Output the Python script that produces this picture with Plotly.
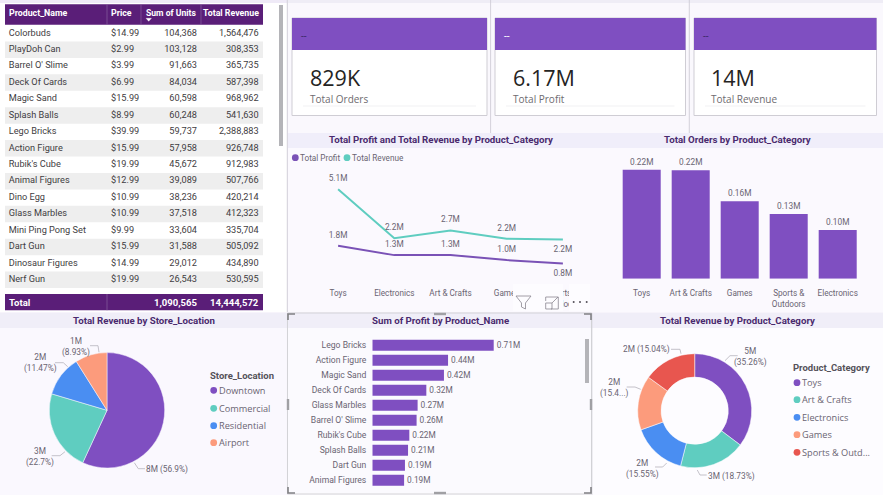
import plotly.graph_objects as go

W, H = 883, 495

# ---- data ----
products = ["Colorbuds", "PlayDoh Can", "Barrel O' Slime", "Deck Of Cards", "Magic Sand", "Splash Balls",
            "Lego Bricks", "Action Figure", "Rubik's Cube", "Animal Figures", "Dino Egg", "Glass Marbles",
            "Mini Ping Pong Set", "Dart Gun", "Dinosaur Figures", "Nerf Gun"]
prices = ["$14.99", "$2.99", "$3.99", "$6.99", "$15.99", "$8.99", "$39.99", "$15.99", "$19.99", "$12.99",
          "$10.99", "$10.99", "$9.99", "$15.99", "$14.99", "$19.99"]
units = ["104,368", "103,128", "91,663", "84,034", "60,598", "60,248", "59,737", "57,958", "45,672", "39,089",
         "38,236", "37,518", "33,604", "31,588", "29,012", "26,543"]
revenues = ["1,564,476", "308,353", "365,735", "587,398", "968,962", "541,630", "2,388,883", "926,748",
            "912,983", "507,766", "420,214", "412,323", "335,704", "505,092", "434,890", "530,595"]
table_header = ["Product_Name", "Price", "Sum of Units", "Total Revenue"]
table_total = ["Total", "", "1,090,565", "14,444,572"]

kpi_values = ["829K", "6.17M", "14M"]
kpi_labels = ["Total Orders", "Total Profit", "Total Revenue"]

line_cats = ["Toys", "Electronics", "Art & Crafts", "Games", "Sports &<br>Outdoors"]
line_profit = [1.82, 1.27, 1.27, 0.98, 0.78]
line_revenue = [5.09, 2.25, 2.70, 2.22, 2.17]

order_cats = ["Toys", "Art & Crafts", "Games", "Sports &<br>Outdoors", "Electronics"]
order_vals = [0.2225, 0.2215, 0.158, 0.132, 0.0995]

profit_names = ["Lego Bricks", "Action Figure", "Magic Sand", "Deck Of Cards", "Glass Marbles", "Barrel O' Slime",
                "Rubik's Cube", "Splash Balls", "Dart Gun", "Animal Figures"]
profit_vals = [0.71, 0.443, 0.419, 0.316, 0.265, 0.259, 0.2165, 0.209, 0.191, 0.186]

store_names = ["Downtown", "Commercial", "Residential", "Airport"]
store_vals = [56.9, 22.7, 11.47, 8.93]
store_labels = ["8M (56.9%)", "3M<br>(22.7%)", "2M<br>(11.47%)", "1M<br>(8.93%)"]

cat_names = ["Toys", "Art & Crafts", "Electronics", "Games", "Sports & Outd..."]
cat_vals = [35.26, 18.73, 15.55, 15.4, 15.04]
cat_labels = ["5M<br>(35.26%)", "3M (18.73%)", "2M<br>(15.55%)", "2M<br>(15.4...)", "2M (15.04%)"]

# ---- style ----
PURPLE, TEAL, BLUE, SALMON, RED = "#7F4FC1", "#5FCDC0", "#4A8EF2", "#FC9B7C", "#E8564F"
DARK = "#5A1E78"
GREY = "#6A6472"
TITLE = "#4A2A6E"
FONT = "Roboto"
TFONT = "Roboto"

def px(x): return x / W
def py(y): return 1 - y / H
def dx(a, b): return [a / W, b / W]
def dy(t, b): return [1 - b / H, 1 - t / H]

shapes, annos = [], []

def rect(x0, y0, x1, y1, fill, line=None, lw=1, layer="below"):
    shapes.append(dict(type="rect", xref="paper", yref="paper", x0=px(x0), x1=px(x1), y0=py(y0), y1=py(y1),
                       fillcolor=fill, line=dict(color=line or fill, width=lw if line else 0), layer=layer))

def poly(pts, color, lw=0.8, layer="above", fill=None, close=False):
    d = "M" + " L".join(f"{px(a):.5f},{py(b):.5f}" for a, b in pts) + (" Z" if close else "")
    shapes.append(dict(type="path", xref="paper", yref="paper", path=d, line=dict(color=color, width=lw),
                       fillcolor=fill or "rgba(0,0,0,0)", layer=layer))

def dot(cx, cy, r, color):
    shapes.append(dict(type="circle", xref="paper", yref="paper", x0=px(cx - r), x1=px(cx + r), y0=py(cy + r), y1=py(cy - r),
                       fillcolor=color, line=dict(width=0), layer="above"))

def text(x, y, s, size=9, color=GREY, anchor="left", family=FONT, bold=False):
    annos.append(dict(xref="paper", yref="paper", x=px(x), y=py(y), text=f"<b>{s}</b>" if bold else s, showarrow=False,
                      xanchor=anchor, yanchor="middle", align=anchor,
                      font=dict(size=size, color=color, family=family), borderpad=0, borderwidth=0))

# ---- panels ----
rect(0, 0, 287, 312, "#FFFFFF")
rect(288, 0, W, 133, "#FAF8FD")
rect(288, 148, W, 312, "#FBF9FE")
rect(0, 328, 287, H, "#FAF8FE")
rect(288, 328, 592, H, "#FBFAFE")
rect(592, 328, W, H, "#FDFCFF")
rect(0, 0, 287, 3, "#EFEAF7")
rect(288, 0, W, 3, "#EFEDF6")
rect(288, 133, W, 148, "#F0EEFA")
rect(0, 313, 287, 328, "#F0EEF8")
rect(288, 313, 592, 328, "#F0EEF8")
rect(592, 313, W, 328, "#F0EEF8")
for x in (287.3, 490.6, 689.3):
    poly([(x, 0), (x, 133)], "#C9C6D0", 0.8, "below")
poly([(287.3, 133), (287.3, 312)], "#C9C6D0", 0.8, "below")
poly([(592, 313), (592, 495)], "#D8D6DE", 0.8, "below")

# ---- KPI cards ----
cards = [(292, 487, "#3E2A6A", 310), (495, 685.5, "#FFFFFF", 513), (694, 876.5, "#3E2A6A", 711)]
for (a, b, dash, tx), v, l in zip(cards, kpi_values, kpi_labels):
    rect(a, 18, b, 115.5, "#FFFFFF", "#CFCDD4", 1)
    rect(a, 18, b, 50, PURPLE)
    text(a + 9, 36, "--", 10, dash)
    text(tx, 77, v, 21.5, "#252423", family="Open Sans")
    text(tx, 99, l, 10, "#6E6B70", family="Open Sans")
    poly([(a + 11, 106), (b - 11, 106)], "#EDEDF0", 0.8, "below")

# ---- table ----
rect(5, 4.3, 263, 24.7, DARK)
rect(5, 294, 263, 310.3, DARK)
poly([(107, 4.3), (107, 24.7)], "#8E6AA5", 0.6, "below")
poly([(141, 4.3), (141, 24.7)], "#8E6AA5", 0.6, "below")
poly([(201, 4.3), (201, 24.7)], "#8E6AA5", 0.6, "below")
poly([(107, 294), (107, 310.3)], "#8E6AA5", 0.6, "below")
col_x = [8.7, 111, 197, 258.7]
col_pos = ["middle right", "middle right", "middle left", "middle left"]
for i in range(len(products)):
    if i % 2:
        shapes.append(dict(type="rect", xref="x4", yref="y4", x0=5, x1=263, y0=i - .5, y1=i + .5,
                           fillcolor="#EEEEEE", line=dict(width=0), layer="below"))
rows = list(range(len(products)))
text(8.7, 12.5, table_header[0], 8.8, "#FFFFFF", bold=True)
text(111, 12.5, table_header[1], 8.8, "#FFFFFF", bold=True)
text(195.5, 12.5, table_header[2], 8.6, "#FFFFFF", "right", bold=True)
text(259, 12.5, table_header[3], 8.8, "#FFFFFF", "right", bold=True)
poly([(146, 18.3), (151.5, 18.3), (148.7, 21.3)], "#FFFFFF", 0.3, fill="#FFFFFF", close=True)
text(8.7, 302.5, table_total[0], 9.5, "#FFFFFF", bold=True)
text(197, 302.5, table_total[2], 9.5, "#FFFFFF", "right", bold=True)
text(259, 302.5, table_total[3], 9.5, "#FFFFFF", "right", bold=True)
rect(279, 5, 283, 146, "#B4B4B8", layer="above")

fig = go.Figure()
for x, pos, col in zip(col_x, col_pos, [products, prices, units, revenues]):
    fig.add_trace(go.Scatter(x=[x] * len(rows), y=rows, text=col, mode="text", textposition=pos, xaxis="x4", yaxis="y4",
                             textfont=dict(size=9.2, color="#3F3D42", family=FONT), cliponaxis=False, hoverinfo="skip", showlegend=False))

# ---- titles ----
TS = 9.7
text(440.7, 139, "Total Profit and Total Revenue by Product_Category", TS, TITLE, "center", TFONT, True)
text(737, 139, "Total Orders by Product_Category", TS, TITLE, "center", TFONT, True)
text(144.3, 320, "Total Revenue by Store_Location", TS, TITLE, "center", TFONT, True)
text(440, 320, "Sum of Profit by Product_Name", TS, TITLE, "center", TFONT, True)
text(737, 320, "Total Revenue by Product_Category", TS, TITLE, "center", TFONT, True)

# ---- line chart ----
hidden = dict(size=8, opacity=0)
fig.add_trace(go.Scatter(x=line_cats, y=line_profit, mode="lines+markers+text", line=dict(color="#7A52B6", width=2), marker=hidden, xaxis="x", yaxis="y",
                         text=[f"{v:.1f}M" for v in line_profit], textposition=["top center"] * 4 + ["bottom center"],
                         textfont=dict(size=8.3, color=GREY, family=FONT), cliponaxis=False, showlegend=False, name="Total Profit"))
fig.add_trace(go.Scatter(x=line_cats, y=line_revenue, mode="lines+markers+text", line=dict(color=TEAL, width=2), marker=hidden, xaxis="x", yaxis="y",
                         text=[f"{v:.1f}M" for v in line_revenue], textposition=["top center"] * 4 + ["bottom center"],
                         textfont=dict(size=8.3, color=GREY, family=FONT), cliponaxis=False, showlegend=False, name="Total Revenue"))
dot(295.3, 157.7, 3.4, "#7A52B6")
text(300.3, 158, "Total Profit", 8.2)
dot(347, 157.7, 3.4, TEAL)
text(352, 158, "Total Revenue", 8.2)

# ---- column chart ----
fig.add_trace(go.Bar(x=order_cats, y=order_vals, marker=dict(color=PURPLE, line=dict(width=0)), xaxis="x2", yaxis="y2",
                     text=[f"{v:.2f}M" for v in order_vals], textposition="outside", cliponaxis=False, width=0.776,
                     textfont=dict(size=8.3, color=GREY, family=FONT), showlegend=False))

# ---- horizontal bars ----
fig.add_trace(go.Bar(y=profit_names, x=profit_vals, orientation="h", marker=dict(color=PURPLE, line=dict(width=0)), xaxis="x3", yaxis="y3",
                     text=[f"{v:.2f}M" for v in profit_vals], textposition="outside", cliponaxis=False, width=0.73,
                     textfont=dict(size=8.3, color=GREY, family=FONT), showlegend=False))
rect(585, 339, 589, 383, "#B4B4B8", layer="above")

# ---- store pie ----
fig.add_trace(go.Pie(labels=store_names, values=store_vals, sort=False, direction="clockwise", rotation=0, textinfo="none",
                     marker=dict(colors=[PURPLE, TEAL, BLUE, SALMON], line=dict(color="#FAF8FE", width=0.5)),
                     domain=dict(x=dx(49.3, 164.7), y=dy(352.6, 468)), showlegend=False, hoverinfo="label+percent"))
LS = 8.3
text(167.3, 469.3, store_labels[0], LS, GREY, "center")
text(40, 456.5, store_labels[1], LS, GREY, "center")
text(40, 362.5, store_labels[2], LS, GREY, "center")
text(76, 346.5, store_labels[3], LS, GREY, "center")
poly([(134.3, 462.7), (138.3, 468.7), (145, 468.7)], "#B5B2BB")
poly([(51.7, 455.7), (60, 455.7), (65, 451.7)], "#B5B2BB")
poly([(55, 362.7), (63.3, 362.7), (67.7, 366.7)], "#B5B2BB")
poly([(90, 345.7), (98, 345.7), (99, 352.3)], "#B5B2BB")
text(209.7, 375.7, "Store_Location", 9.5, "#55525A", bold=True)
for yy, n, c in zip([390.3, 408.3, 425.7, 442.7], store_names, [PURPLE, TEAL, BLUE, SALMON]):
    dot(213.7, yy, 3.4, c)
    text(219, yy, n, 9.2, GREY, family="Open Sans")

# ---- category donut ----
fig.add_trace(go.Pie(labels=cat_names, values=cat_vals, sort=False, direction="clockwise", rotation=0, textinfo="none", hole=0.59,
                     marker=dict(colors=[PURPLE, TEAL, BLUE, SALMON, RED], line=dict(color="#FDFCFF", width=0.5)),
                     domain=dict(x=dx(637.7, 751.7), y=dy(353.7, 467.7)), showlegend=False, hoverinfo="label+percent"))
text(750, 356.5, cat_labels[0], LS, GREY, "center")
text(731, 476, cat_labels[1], LS, GREY, "center")
text(642, 468.5, cat_labels[2], LS, GREY, "center")
text(614.5, 388, cat_labels[3], LS, GREY, "center")
text(646, 349.3, cat_labels[4], LS, GREY, "center")
poly([(725, 360.7), (730, 355.7), (737.7, 355.7)], "#B5B2BB")
poly([(671, 349.3), (680, 349.3), (681, 353.7)], "#B5B2BB")
poly([(626.7, 387), (635, 387), (640.7, 389.3)], "#B5B2BB")
poly([(655, 467), (662.7, 467), (666.7, 463)], "#B5B2BB")
poly([(697.3, 470), (700, 475), (706.7, 475)], "#B5B2BB")
text(793.3, 367.7, "Product_Category", 9.5, "#55525A", bold=True)
for yy, n, c in zip([382.7, 399.7, 417.3, 434.7, 452.3], cat_names, [PURPLE, TEAL, BLUE, SALMON, RED]):
    dot(797, yy, 3.4, c)
    text(802, yy, n, 9.2, GREY, family="Open Sans")

# ---- visual header overlay ----
rect(513, 284, 563, 311, "#FDFCFF", layer="above")
rect(569, 284, 590, 311, "#FDFCFF", layer="above")
poly([(516, 296), (531, 296), (525.5, 303), (525.5, 309), (521.5, 307), (521.5, 303)], "#8A8790", 0.8, close=True)
poly([(545.7, 301), (545.7, 297), (558.3, 297), (558.3, 309), (551, 309)], "#8A8790", 0.8)
poly([(545.7, 303), (552, 303), (552, 309), (545.7, 309)], "#8A8790", 0.8, close=True)
poly([(552, 303), (558, 297)], "#8A8790", 0.8)
for cx in (573.7, 580, 586.7):
    dot(cx, 302, 1, "#55525A")

# ---- selection frame ----
poly([(287.5, 313), (591.5, 313), (591.5, 494), (287.5, 494)], "#CFCFD2", 0.9, close=True)
for a, b, c in [((288, 320), (288, 314), (295, 314)), ((584, 314), (591, 314), (591, 320)),
                ((288, 487), (288, 493), (295, 493)), ((584, 493), (591, 493), (591, 487))]:
    poly([a, b, c], "#808084", 1.6)
for seg in [[(288, 399), (288, 410)], [(591, 399), (591, 410)], [(434, 314), (446, 314)], [(434, 493), (446, 493)]]:
    poly(seg, "#A0A0A4", 2.4)

# ---- axes ----
noax = dict(visible=False, fixedrange=True)
tick = dict(size=8.2, color=GREY, family=FONT)
fig.update_layout(
    width=W, height=H, margin=dict(l=0, r=0, t=0, b=0), autosize=False,
    paper_bgcolor="#F7F4FB", plot_bgcolor="rgba(0,0,0,0)", shapes=shapes, annotations=annos, bargap=0.2,
    font=dict(family=FONT),
    xaxis=dict(domain=dx(310, 591), range=[-0.5, 4.5], type="category", categoryorder="array", categoryarray=line_cats,
               showgrid=False, zeroline=False, showline=False, ticks="", tickfont=tick, ticklabelstandoff=8, fixedrange=True),
    yaxis=dict(domain=dy(165, 279), range=[-0.116, 6.5], visible=False, fixedrange=True),
    xaxis2=dict(domain=dx(617.2, 862.2), range=[-0.5, 4.5], type="category", categoryorder="array", categoryarray=order_cats,
                showgrid=False, zeroline=False, showline=False, ticks="", tickfont=tick, ticklabelstandoff=8, fixedrange=True, anchor="y2"),
    yaxis2=dict(domain=dy(150, 278.7), range=[0, 0.2627], visible=False, fixedrange=True, anchor="x2"),
    xaxis3=dict(domain=dx(372.3, 585), range=[0, 1.2439], visible=False, fixedrange=True, anchor="y3"),
    yaxis3=dict(domain=dy(337.8, 487.8), type="category", autorange="reversed", showgrid=False, zeroline=False, showline=False,
                ticks="", tickfont=dict(size=8.6, color=GREY, family=FONT), ticklabelstandoff=5, fixedrange=True, anchor="x3"),
    xaxis4=dict(domain=dx(5, 263), range=[5, 263], anchor="y4", **noax),
    yaxis4=dict(domain=dy(25, 288), range=[15.5, -0.5], anchor="x4", **noax),
)
fig.write_html("out.html", config=dict(displayModeBar=False),
               post_script="document.body.style.margin='0';document.documentElement.style.overflow='hidden';")
